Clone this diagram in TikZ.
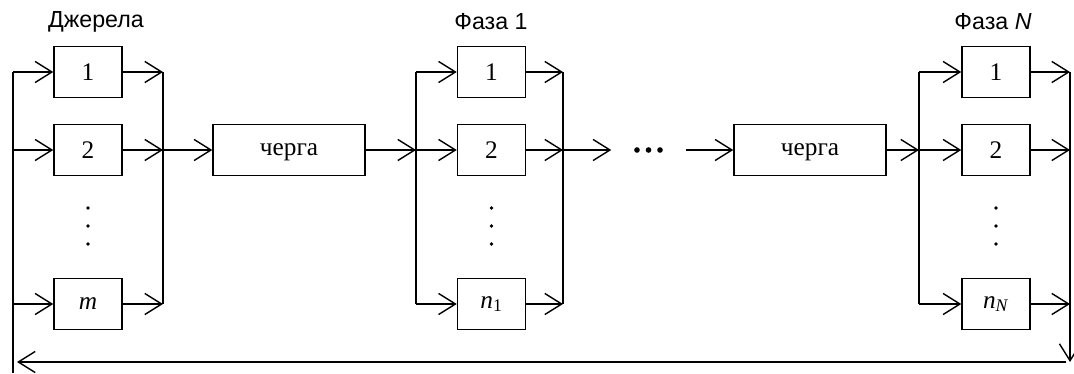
\documentclass[tikz,border=0pt]{standalone}
\usepackage{fontspec}
\setmainfont{Liberation Serif}
\setsansfont{Liberation Sans}
\usetikzlibrary{arrows.meta,positioning}

\begin{document}
\begin{tikzpicture}[x=0.025cm, y=-0.025cm, line width=1pt,
		>={Straight Barb[length=12pt,width=15pt]},
		box/.style={draw, minimum width=1.7cm, minimum height=1.275cm, inner sep=0pt,
			font=\fontsize{18}{20}\selectfont},
		queue/.style={box, minimum width=3.8cm, text depth=0pt},
		title/.style={font=\sffamily\fontsize{16.5}{19}\selectfont}]
		\useasboundingbox (0,0) rectangle (1074,374);
		
		% titles
		\node[title] (tsrc) at (96,22) {Джерела};
		\node[title] (tph1) at (491,22) {Фаза 1};
		\node[title] (tphN) at (993,22) {Фаза \textit{N}};
		
		% sources
		\node[box] (s1) at (88,72) {1};
		\node[box] (s2) at (88,150) {2};
		\node[box] (sm) at (88,304) {\textit{m}};
		\coordinate (fbTop) at (13,72);
		\coordinate (fbBot) at (13,373);
		\coordinate (sOutTop) at (163,72);
		\coordinate (sOutBot) at (163,304);
		
		% phase 1
		\node[queue] (q1) at (289,150) {черга};
		\node[box] (a1) at (491.5,72) {1};
		\node[box] (a2) at (491.5,150) {2};
		\node[box] (an) at (491.5,304) {\textit{n}\textsubscript{1}};
		\coordinate (p1InTop) at (416,72);
		\coordinate (p1InBot) at (416,304);
		\coordinate (p1OutTop) at (563,72);
		\coordinate (p1OutBot) at (563,304);
		
		\node[minimum width=1.825cm, minimum height=0.5cm] (dots) at (648.5,150) {};
		
		% phase N
		\node[queue] (qN) at (810,150) {черга};
		\node[box] (b1) at (996,72) {1};
		\node[box] (b2) at (996,150) {2};
		\node[box] (bn) at (996,304) {\textit{n}\textsubscript{\textit{N}}};
		\coordinate (pNInTop) at (919,72);
		\coordinate (pNInBot) at (919,304);
		\coordinate (fbRight) at (1070,72);
		\coordinate (fbCorner) at (1070,362);
		\coordinate (fbStart) at (1066,362);
		\coordinate (fbEnd) at (17,362);
		
		% buses
		\draw (fbTop) -- (fbBot);
		\draw (sOutTop) -- (sOutBot);
		\draw (p1InTop) -- (p1InBot);
		\draw (p1OutTop) -- (p1OutBot);
		\draw (pNInTop) -- (pNInBot);
		
		% arrows into and out of the boxes
		\foreach \b in {s1,s2,sm} {
			\draw[->] (\b -| fbTop) -- (\b.west);
			\draw[->] (\b.east) -- (\b -| sOutTop);
		}
		\foreach \b in {a1,a2,an} {
			\draw[->] (\b -| p1InTop) -- (\b.west);
			\draw[->] (\b.east) -- (\b -| p1OutTop);
		}
		\foreach \b in {b1,b2,bn} {
			\draw[->] (\b -| pNInTop) -- (\b.west);
			\draw[->] (\b.east) -- (\b -| fbRight);
		}
		
		\draw[->] (s2 -| sOutTop) -- (q1.west);
		\draw[->] (q1.east) -- (q1 -| p1InTop);
		\draw[->] (a2 -| p1OutTop) -- (dots.west);
		\draw[->] (dots.east) -- (qN.west);
		\draw[->] (qN.east) -- (qN -| pNInTop);
		
		% feedback
		\draw[->] (fbRight) -- (fbCorner);
		\draw[->] (fbStart) -- (fbEnd);
		
		% dots
		\foreach \i in {-1,0,1} {
			\fill ([xshift=\i*8.2pt]dots.center) circle (2pt);
			\fill ([yshift=-54pt-\i*12.8pt]s2.center) circle (1.3pt);
			\fill ([yshift=-54pt-\i*12.8pt]a2.center) circle (1.3pt);
			\fill ([yshift=-54pt-\i*12.8pt]b2.center) circle (1.3pt);
		}
		
\end{tikzpicture}
\end{document}
